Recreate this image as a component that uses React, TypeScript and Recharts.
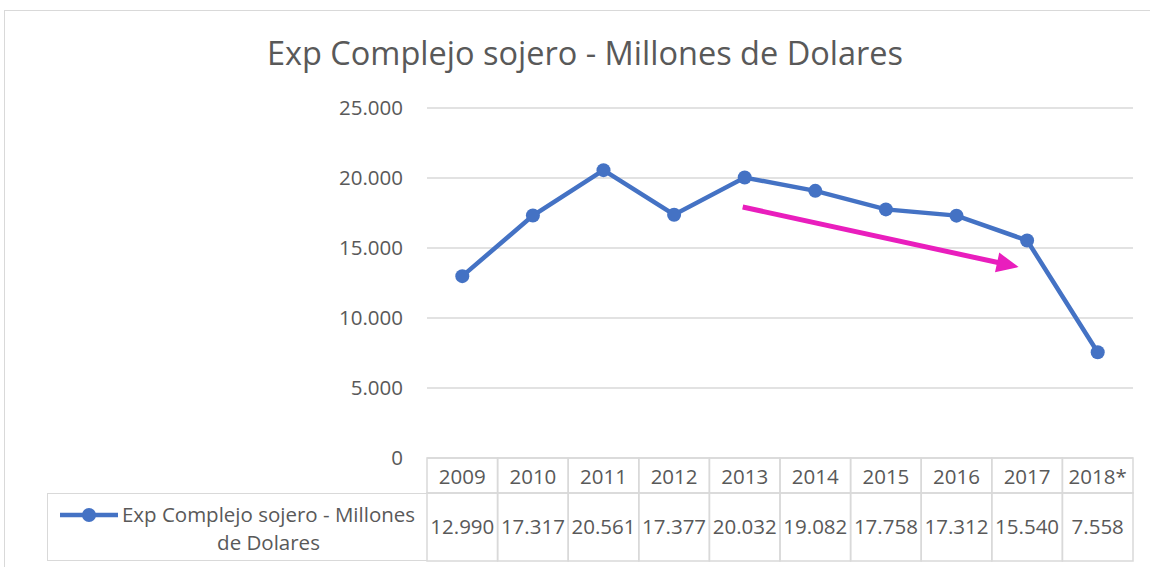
import React from 'react'
import {
  LineChart,
  Line,
  XAxis,
  YAxis,
  CartesianGrid,
  ReferenceLine,
} from 'recharts'

// ─── Data ─────────────────────────────────────────────────────────────────────

const CATEGORIES = ['2009', '2010', '2011', '2012', '2013', '2014', '2015', '2016', '2017', '2018*']
const EXPORTS    = [12990, 17317, 20561, 17377, 20032, 19082, 17758, 17312, 15540, 7558]
const Y_TICKS    = [0, 5000, 10000, 15000, 20000, 25000]
const SERIES_NAME = 'Exp Complejo sojero - Millones de Dolares'

// trend arrow drawn over 2013..2017
const ARROW_FROM = { x: '2013', y: 17929 }
const ARROW_TO   = { x: '2017', y: 13507 }

// ─── Style ────────────────────────────────────────────────────────────────────

const FONT       = '"Open Sans", sans-serif'
const TEXT_COLOR = '#595959'
const GRID_COLOR = '#d9d9d9'
const LINE_COLOR = '#4472C4'
const ARROW_COLOR = '#E91EBD'

const W = 1150
const H = 567
const PLOT_LEFT  = 427
const PLOT_RIGHT = 1133
const PLOT_TOP   = 108
const PLOT_BOTTOM = 458
const CELL_W   = (PLOT_RIGHT - PLOT_LEFT) / CATEGORIES.length
const HEAD_H   = 35
const VALUE_H  = 68

const fmt = (v: number) => (v === 0 ? '0' : (v / 1000).toFixed(3))

const chartData = CATEGORIES.map((c, i) => ({ label: c, value: EXPORTS[i] }))

// data-table style x axis: year cell on top, value cell below
function TableTick(props: any) {
  const { x, y, payload } = props
  const i = CATEGORIES.indexOf(payload.value)
  const left = x - CELL_W / 2
  return (
    <g>
      <rect x={left} y={y} width={CELL_W} height={HEAD_H} fill="none" stroke={GRID_COLOR} strokeWidth={1.5} />
      <rect x={left} y={y + HEAD_H} width={CELL_W} height={VALUE_H} fill="none" stroke={GRID_COLOR} strokeWidth={1.5} />
      <text x={x} y={y + HEAD_H / 2} textAnchor="middle" dominantBaseline="central"
        fill={TEXT_COLOR} fontSize={20.5} fontFamily={FONT}>
        {payload.value}
      </text>
      <text x={x} y={y + HEAD_H + 33} textAnchor="middle" dominantBaseline="central"
        fill={TEXT_COLOR} fontSize={20.5} fontFamily={FONT}>
        {fmt(EXPORTS[i])}
      </text>
    </g>
  )
}

function ArrowShape(props: any) {
  const { x1, y1, x2, y2 } = props
  if ([x1, y1, x2, y2].some(v => v == null || isNaN(v))) return null
  const sx = x1 - 2
  const tx = x1 + (x2 - x1) * 0.97
  const ty = y1 + (y2 - y1) * 0.97
  const dx = tx - sx
  const dy = ty - y1
  const len = Math.hypot(dx, dy)
  const ux = dx / len
  const uy = dy / len
  const headL = 22
  const headW = 10
  const bx = tx - ux * headL
  const by = ty - uy * headL
  return (
    <g>
      <line x1={sx} y1={y1} x2={bx + ux * 2} y2={by + uy * 2} stroke={ARROW_COLOR} strokeWidth={5} />
      <polygon
        points={`${tx},${ty} ${bx - uy * headW},${by + ux * headW} ${bx + uy * headW},${by - ux * headW}`}
        fill={ARROW_COLOR}
      />
    </g>
  )
}

export default function App() {
  return (
    <div style={{ position: 'absolute', left: 0, top: 0, width: W, height: H, overflow: 'hidden', background: '#fff' }}>
      {/* chart frame, cut off on the right and bottom */}
      <div style={{ position: 'absolute', left: 4, top: 10, width: 1300, height: 700, border: `1px solid ${GRID_COLOR}` }} />

      <div style={{
        position: 'absolute', left: 0, width: 1170, top: 30, textAlign: 'center',
        fontFamily: FONT, fontSize: 32.5, color: TEXT_COLOR, whiteSpace: 'nowrap',
      }}>
        {SERIES_NAME}
      </div>

      <div style={{ position: 'absolute', left: 0, top: 0 }}>
        <LineChart
          width={W}
          height={H}
          data={chartData}
          margin={{ top: PLOT_TOP, right: W - PLOT_RIGHT, bottom: 0, left: 0 }}
        >
          <CartesianGrid stroke={GRID_COLOR} strokeWidth={1.5} vertical={false} />
          <XAxis
            dataKey="label"
            height={H - PLOT_BOTTOM}
            interval={0}
            padding={{ left: CELL_W / 2, right: CELL_W / 2 }}
            axisLine={false}
            tickLine={false}
            tickSize={0}
            tickMargin={0}
            tick={<TableTick />}
          />
          <YAxis
            width={PLOT_LEFT}
            domain={[0, 25000]}
            ticks={Y_TICKS}
            tickFormatter={fmt}
            axisLine={false}
            tickLine={false}
            tickMargin={18}
            tick={{ fill: TEXT_COLOR, fontSize: 20.5, fontFamily: FONT }}
          />
          <ReferenceLine
            segment={[ARROW_FROM, ARROW_TO]}
            stroke={ARROW_COLOR}
            shape={(p: any) => <ArrowShape {...p} />}
          />
          <Line
            type="linear"
            dataKey="value"
            name={SERIES_NAME}
            stroke={LINE_COLOR}
            strokeWidth={4.5}
            dot={{ r: 7, fill: LINE_COLOR, stroke: LINE_COLOR, strokeWidth: 0 }}
            isAnimationActive={false}
          />
        </LineChart>
      </div>

      {/* legend cell of the data table */}
      <div style={{
        position: 'absolute', left: 47, top: PLOT_BOTTOM + HEAD_H, width: PLOT_LEFT - 47, height: VALUE_H,
        borderTop: `1.5px solid ${GRID_COLOR}`, borderLeft: `1.5px solid ${GRID_COLOR}`, borderBottom: `1.5px solid ${GRID_COLOR}`,
        boxSizing: 'border-box',
      }}>
        <svg width={60} height={20} style={{ position: 'absolute', left: 12, top: 11 }}>
          <line x1={0} y1={10} x2={58} y2={10} stroke={LINE_COLOR} strokeWidth={4.5} />
          <circle cx={29} cy={10} r={7} fill={LINE_COLOR} />
        </svg>
        <div style={{
          position: 'absolute', left: 70, right: 8, top: 6, textAlign: 'center',
          fontFamily: FONT, fontSize: 20.5, lineHeight: '28px', color: TEXT_COLOR,
        }}>
          Exp Complejo sojero - Millones<br />de Dolares
        </div>
      </div>
    </div>
  )
}
